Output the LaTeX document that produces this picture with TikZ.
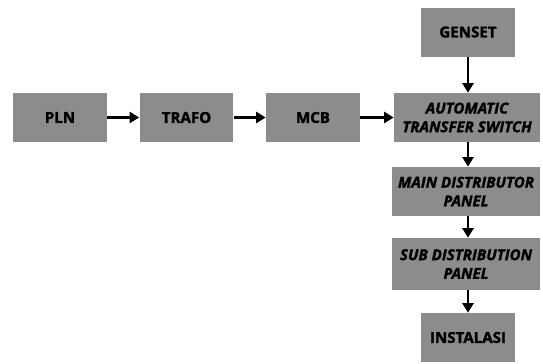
\documentclass[tikz,border=0pt]{standalone}
\usepackage{fontspec}
\setmainfont{Open Sans}[BoldFeatures={FakeBold=1.6}, BoldItalicFeatures={FakeBold=1.6}]
\usetikzlibrary{arrows.meta}
\definecolor{boxgray}{HTML}{8C8C8C}
\tikzset{
  blok/.style={fill=boxgray, minimum width=1.88cm, minimum height=0.98cm,
    inner sep=1pt, align=center, font=\fontsize{8.6}{10.2}\selectfont\bfseries},
  blokwide/.style={blok, minimum width=2.96cm, font=\fontsize{8.6}{10.6}\selectfont\bfseries\itshape},
  panah/.style={-{Triangle[length=0.19cm,width=0.22cm]}, line width=1.5pt}
}
\begin{document}
\begin{tikzpicture}[x=0.02cm, y=-0.02cm]

            \useasboundingbox (0,0) rectangle (543,363);

            % baris utama
            \node[blok] (pln) at (60,117.5) {PLN};
            \node[blok] (trafo) at (186.5,117.5) {TRAFO};
            \node[blok] (mcb) at (313,117.5) {MCB};
            \node[blok, minimum width=2.92cm, font=\fontsize{8.6}{10.6}\selectfont\bfseries\itshape] (ats) at (467,117.5) {AUTOMATIC\\TRANSFER SWITCH};

            % kolom kanan
            \node[blok] (genset) at (468,32) {GENSET};
            \node[blokwide] (mdp) at (466,191.5) {MAIN DISTRIBUTOR\\PANEL};
            \node[blokwide, minimum height=1.04cm] (sdp) at (466,264) {SUB DISTRIBUTION\\PANEL};
            \node[blok] (instalasi) at (468,337.5) {INSTALASI};

            % panah
            \draw[panah] (pln) -- (trafo);
            \draw[panah] (trafo) -- (mcb);
            \draw[panah] (mcb) -- (ats);
            \draw[panah] (genset) -- (genset |- ats.north);
            \draw[panah] (ats.south -| genset) -- (mdp.north -| genset);
            \draw[panah] (mdp.south -| genset) -- (sdp.north -| genset);
            \draw[panah] (sdp.south -| genset) -- (instalasi);

        \end{tikzpicture}
\end{document}
